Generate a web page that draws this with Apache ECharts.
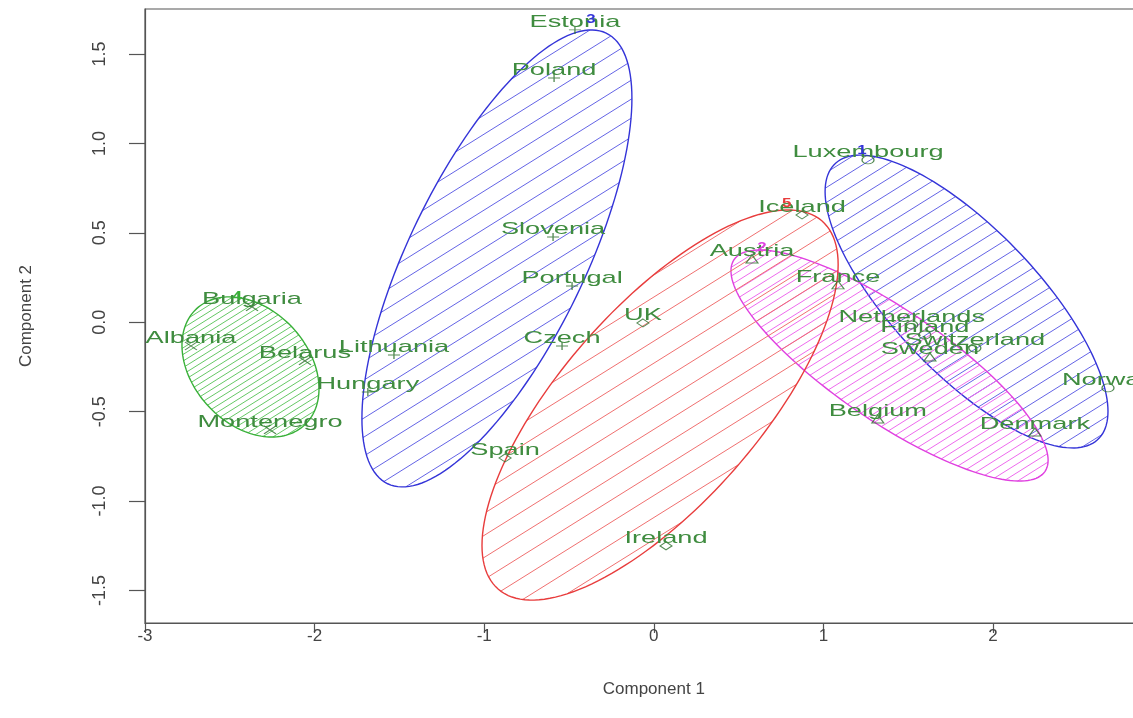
<!DOCTYPE html>
<html><head><meta charset="utf-8">
<script src="https://cdn.jsdelivr.net/npm/echarts@6/dist/echarts.min.js"></script>
<style>html,body{margin:0;padding:0;background:#fff}#c{width:1133px;height:718px}</style>
</head><body><div id="c"></div>
<script>
// ---------- data ----------
const countries = ["Estonia","Poland","Slovenia","Portugal","Czech","Spain","Lithuania","Hungary",
  "Bulgaria","Albania","Belarus","Montenegro","UK","Ireland","Iceland","Austria","France","Belgium",
  "Luxembourg","Netherlands","Finland","Switzerland","Sweden","Norway","Denmark"];
const comp1 = [-0.465,-0.588,-0.594,-0.482,-0.541,-0.877,-1.532,-1.686,
  -2.369,-2.729,-2.057,-2.263,-0.064,0.072,0.874,0.579,1.086,1.321,
  1.263,1.521,1.598,1.893,1.628,2.678,2.247];
const comp2 = [1.635,1.366,0.477,0.203,-0.133,-0.759,-0.183,-0.390,
  0.086,-0.133,-0.216,-0.602,-0.004,-1.251,0.600,0.354,0.209,-0.541,
  0.908,-0.015,-0.071,-0.144,-0.194,-0.367,-0.614];
const clusterOf = [3,3,3,3,3,5,3,3, 4,4,4,4,5,5,5,2,2,2, 1,1,1,1,2,1,2];
const clusterIds = [1,2,3,4,5];
// ellipse per cluster: centre, x half-extent, y half-extent, correlation
const ellipseCx = [1.844, 1.390, -0.925, -2.378, 0.037];
const ellipseCy = [0.116, -0.242, 0.357, -0.250, -0.463];
const ellipseSx = [0.834, 0.935, 0.796, 0.404, 1.050];
const ellipseSy = [0.819, 0.646, 1.278, 0.392, 1.091];
const ellipseR  = [-0.75, -0.82, 0.70, -0.31, 0.72];
const clusterLabelX = [1.228, 0.638, -0.370, -2.457, 0.784];
const clusterLabelY = [0.963, 0.421, 1.691, 0.147, 0.667];
const xTicks = [-3,-2,-1,0,1,2,3];
const yTicks = [-1.5,-1,-0.5,0,0.5,1,1.5];

// ---------- styles ----------
const lineColor  = ['#3434d8','#e040e0','#3434d8','#38b038','#e83c3c'];
const hatchColor = ['#6464e6','#ee6aee','#6464e6','#66c866','#f07070'];
const hatchGap   = [12.7, 7.4, 16.1, 5.6, 18.7];
const hatchAngle = 32;
const symbols = ['circle','triangle','path://M5,0L5,10M0,5L10,5','path://M0,0L10,10M10,0L0,10','diamond'];
const txtFont = '"Liberation Sans", Arial, sans-serif';
const stretch = 1.6;

function renderEllipse(params, api){
  const i = params.dataIndex;
  const cx=api.value(0), cy=api.value(1), sx=api.value(2), sy=api.value(3), r=api.value(4);
  const N=160, pts=[], q=Math.sqrt(1-r*r);
  for(let k=0;k<N;k++){
    const t=2*Math.PI*k/N;
    pts.push(api.coord([cx+sx*Math.cos(t), cy+sy*(r*Math.cos(t)+q*Math.sin(t))]));
  }
  const th=hatchAngle*Math.PI/180;
  const d=[Math.cos(th),-Math.sin(th)], n=[Math.sin(th),Math.cos(th)];
  const proj=pts.map(p=>p[0]*n[0]+p[1]*n[1]);
  const pmin=Math.min.apply(null,proj), pmax=Math.max.apply(null,proj);
  const gap=hatchGap[i];
  const children=[];
  for(let c=Math.ceil(pmin/gap)*gap;c<=pmax;c+=gap){
    const hits=[];
    for(let k=0;k<N;k++){
      const k2=(k+1)%N, da=proj[k]-c, db=proj[k2]-c;
      if((da<0)!==(db<0)){
        const s=da/(da-db), a=pts[k], b=pts[k2];
        hits.push([a[0]+(b[0]-a[0])*s, a[1]+(b[1]-a[1])*s]);
      }
    }
    if(hits.length>=2){
      hits.sort((u,v)=>(u[0]*d[0]+u[1]*d[1])-(v[0]*d[0]+v[1]*d[1]));
      const h0=hits[0], h1=hits[hits.length-1];
      children.push({type:'line',shape:{x1:h0[0],y1:h0[1],x2:h1[0],y2:h1[1]},
        style:{stroke:hatchColor[i],lineWidth:1}});
    }
  }
  children.push({type:'polygon',shape:{points:pts},style:{fill:'none',stroke:lineColor[i],lineWidth:1.4}});
  return {type:'group',children};
}

const series = [];
series.push({
  type:'custom', name:'ellipses', renderItem:renderEllipse, silent:true, z:2,
  data: clusterIds.map((id,i)=>[ellipseCx[i],ellipseCy[i],ellipseSx[i],ellipseSy[i],ellipseR[i]]),
  encode:{x:0,y:1}
});
clusterIds.forEach((id,ci)=>{
  const pts=[];
  countries.forEach((c,i)=>{ if(clusterOf[i]===id) pts.push([comp1[i],comp2[i]]); });
  series.push({
    type:'scatter', name:'cluster '+id, data:pts, symbol:symbols[ci], symbolSize:[12,8],
    symbolKeepAspect:false, z:3,
    itemStyle:{color:'rgba(0,0,0,0)', borderColor:'#2a6e2a', borderWidth:1.1}
  });
});
series.push({
  type:'custom', name:'labels', silent:true, z:5,
  data: countries.map((c,i)=>[comp1[i],comp2[i]]),
  encode:{x:0,y:1},
  renderItem:(params,api)=>{
    const p=api.coord([api.value(0),api.value(1)]);
    return {type:'text', x:p[0], y:p[1]-8, scaleX:stretch,
      style:{text:countries[params.dataIndex], fill:'#3f8c3f', font:'17px '+txtFont,
        align:'center', verticalAlign:'middle'}};
  }
});
series.push({
  type:'custom', name:'cluster labels', silent:true, z:6,
  data: clusterIds.map((id,i)=>[clusterLabelX[i],clusterLabelY[i]]),
  encode:{x:0,y:1},
  renderItem:(params,api)=>{
    const p=api.coord([api.value(0),api.value(1)]);
    const i=params.dataIndex;
    return {type:'text', x:p[0], y:p[1], scaleX:1.3,
      style:{text:String(clusterIds[i]), fill:lineColor[i], font:'bold 13px '+txtFont,
        align:'center', verticalAlign:'middle'}};
  }
});

const axisCol='#555';
const option = {
  animation:false,
  backgroundColor:'#fff',
  grid:{left:145, top:9, width:1017.6, height:614, show:true, borderColor:axisCol, borderWidth:1.2,
    containLabel:false, outerBoundsMode:'none'},
  xAxis:{type:'value', min:-3, max:3, interval:1,
    axisLine:{show:true, onZero:false, lineStyle:{color:axisCol, width:1.2}},
    axisTick:{show:true, length:10, lineStyle:{color:axisCol, width:1.2}},
    axisLabel:{color:'#444', fontSize:17, fontFamily:'Liberation Sans', margin:5, showMinLabel:true},
    splitLine:{show:false},
    name:'Component 1', nameLocation:'middle', nameGap:58,
    nameTextStyle:{color:'#444', fontSize:17, fontFamily:'Liberation Sans'}},
  yAxis:{type:'value', min:-1.682, max:1.752,
    axisLine:{show:true, onZero:false, lineStyle:{color:axisCol, width:1.2}},
    axisTick:{show:true, length:16, customValues:yTicks, lineStyle:{color:axisCol, width:1.2}},
    axisLabel:{color:'#444', fontSize:18, fontFamily:'Liberation Sans', margin:36, rotate:90,
      customValues:yTicks, formatter:v=>v.toFixed(1)},
    splitLine:{show:false},
    name:'Component 2', nameLocation:'middle', nameGap:110, nameRotate:90,
    nameTextStyle:{color:'#444', fontSize:17, fontFamily:'Liberation Sans'}},
  series
};
const chart = echarts.init(document.getElementById('c'));
chart.setOption(option);
</script></body></html>
